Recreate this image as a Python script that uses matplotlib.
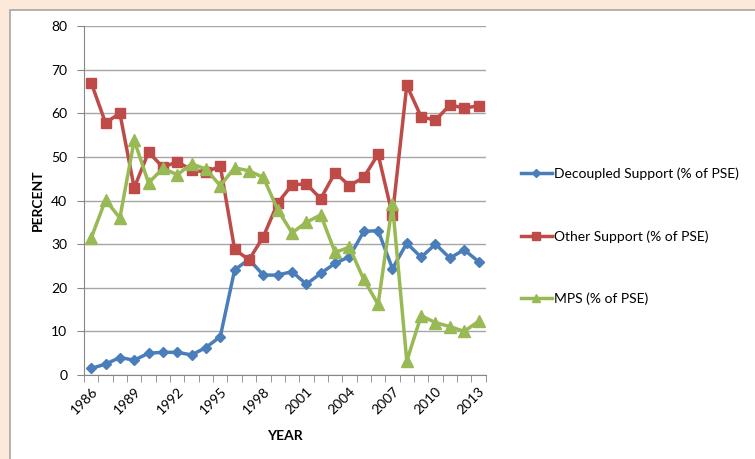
import matplotlib.pyplot as plt
import matplotlib.patches as mpatches
import numpy as np

years = list(range(1986, 2014))
decoupled = [1.5, 2.5, 4.0, 3.4, 5.0, 5.2, 5.2, 4.6, 6.3, 8.8,
             24.1, 26.5, 22.9, 22.9, 23.7, 20.8, 23.3, 25.6, 27.1, 32.9,
             33.1, 24.4, 30.2, 27.0, 30.0, 26.8, 28.7, 26.0]
other = [67.0, 57.8, 60.0, 42.9, 51.1, 47.6, 48.9, 47.0, 46.5, 47.9,
         28.8, 26.4, 31.7, 39.4, 43.6, 43.8, 40.4, 46.4, 43.4, 45.3,
         50.6, 36.6, 66.4, 59.2, 58.4, 61.9, 61.2, 61.7]
mps = [31.4, 40.1, 36.0, 53.8, 44.0, 47.4, 45.9, 48.4, 47.2, 43.4,
       47.5, 46.8, 45.3, 37.9, 32.6, 35.0, 36.7, 28.1, 29.3, 21.9,
       16.2, 39.2, 3.2, 13.6, 12.0, 11.1, 10.0, 12.3]
labels = ["Decoupled Support (% of PSE)", "Other Support (% of PSE)", "MPS (% of PSE)"]

plt.rcParams['font.family'] = ['Lato', 'DejaVu Sans']

fig = plt.figure(figsize=(7.55, 4.59), dpi=100)
fig.patch.set_facecolor("#FDE9D9")
# white chart area with grey border, kept behind the axes
frame = mpatches.Rectangle((10/755, -0.05), 1.0, 1 - 10/459 + 0.05,
                           transform=fig.transFigure, facecolor="white",
                           edgecolor="#A6A6A6", linewidth=1.2, zorder=-10)
fig.add_artist(frame)

ax = fig.add_axes([84/755, 1 - 375/459, 401.7/755, 349/459])
ax.set_facecolor("white")

x = np.arange(len(years))
ax.plot(x, decoupled, color="#4A7EBB", marker="D", markersize=5, linewidth=2.5, label=labels[0])
ax.plot(x, other, color="#BE4B48", marker="s", markersize=7, linewidth=2.5, label=labels[1])
ax.plot(x, mps, color="#98B954", marker="^", markersize=8, linewidth=2.5, label=labels[2])

ax.set_xlim(-0.5, len(years) - 0.5)
ax.set_ylim(0, 80)
ax.set_yticks(range(0, 81, 10))
ax.set_xticks(x[::3])
ax.set_xticklabels([str(y) for y in years[::3]], rotation=45, fontsize=10,
                   ha="right", va="top", rotation_mode="anchor")
ax.set_xticks(np.arange(-0.5, len(years), 1), minor=True)
ax.tick_params(axis="x", which="major", length=0, pad=7)
ax.tick_params(axis="x", which="minor", length=5, color="#868686", direction="out")
ax.tick_params(axis="y", length=5, color="#868686", labelsize=10, pad=7)

ax.grid(axis="y", color="#A6A6A6", linewidth=1)
ax.set_axisbelow(True)
for s in ["top", "right"]:
    ax.spines[s].set_visible(False)
for s in ["left", "bottom"]:
    ax.spines[s].set_color("#868686")

ax.set_ylabel("PERCENT", fontweight="bold", fontsize=10, labelpad=5)
ax.set_xlabel("YEAR", fontweight="bold", fontsize=10, labelpad=10)

fig.legend(loc="upper left", bbox_to_anchor=(508/755, 1 - 155/459), frameon=False,
           fontsize=10, labelspacing=3.6, handlelength=2.3, handletextpad=0.1,
           markerscale=0.8)

fig.savefig("out.png", dpi=100, facecolor=fig.get_facecolor())
